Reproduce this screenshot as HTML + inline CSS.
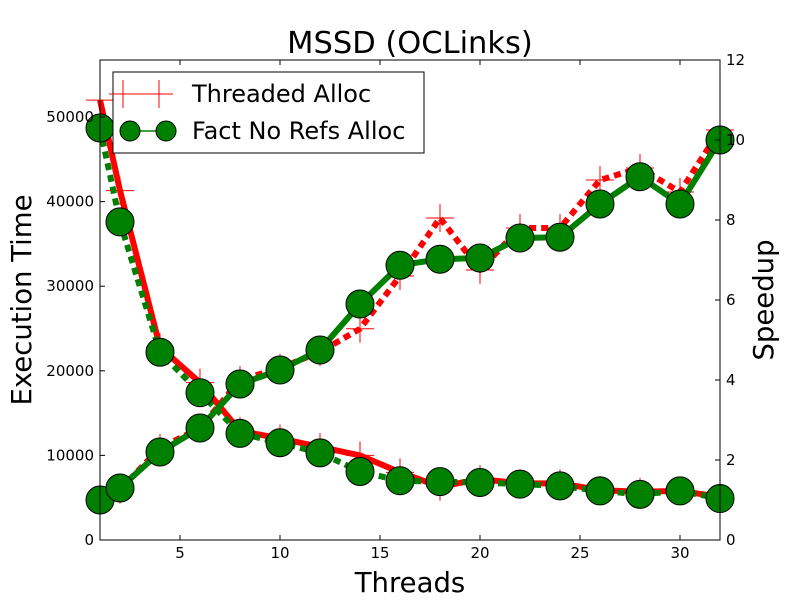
<!DOCTYPE html>
<html><head><meta charset="utf-8"><style>
body{margin:0;background:#fff}
svg text{font-family:"DejaVu Sans","Liberation Sans",sans-serif}
</style></head><body>
<svg id="chart" width="800" height="600" xmlns="http://www.w3.org/2000/svg">
<rect width="800" height="600" fill="#fff"/>
<g id="marks"></g>
<rect x="100" y="60" width="620" height="480" fill="none" stroke="#000" stroke-width="1"/>
<g id="axes"></g>
<text x="410" y="53" font-size="30.5" text-anchor="middle">MSSD (OCLinks)</text>
<text x="410" y="592" font-size="27.5" text-anchor="middle">Threads</text>
<text transform="translate(31,300) rotate(-90)" font-size="27.5" text-anchor="middle">Execution Time</text>
<text transform="translate(773,300) rotate(-90)" font-size="27.5" text-anchor="middle">Speedup</text>
<g>
<rect x="113" y="72" width="311" height="81" fill="#fff" stroke="#000"/>
<g>
<line x1="123" y1="94" x2="173" y2="94" stroke="#f00" stroke-width="1"/>
<path d="M123 94h28M137 80v28M159 94h28M173 80v28" stroke="#f00" stroke-width="1" transform="translate(-14,0)"/>
<text x="192" y="102" font-size="24">Threaded Alloc</text></g>
<g>
<line x1="130" y1="131" x2="166" y2="131" stroke="#008000" stroke-width="1.5"/>
<circle cx="130" cy="131" r="10" fill="#008000" stroke="#000"/>
<circle cx="166" cy="131" r="10" fill="#008000" stroke="#000"/>
<text x="192" y="139" font-size="24">Fact No Refs Alloc</text></g>
</g>
</svg>
<script>
const threads=[1,2,4,6,8,10,12,14,16,18,20,22,24,26,28,30,32];
const threadedTime=[52000,41300,22800,18600,12900,12000,11000,10000,8000,6300,7200,6700,6700,5900,5700,5800,5100];
const factTime=[48700,37600,22200,17400,12600,11500,10300,8100,7000,6900,6800,6600,6400,5800,5400,5800,4900];
const threadedSpeedup=[1.0,1.26,2.3,2.8,4.0,4.3,4.7,5.28,6.6,8.05,6.75,7.8,7.8,9.0,9.3,8.7,10.25];
const factSpeedup=[1.0,1.3,2.2,2.8,3.9,4.25,4.75,5.9,6.87,7.02,7.05,7.55,7.57,8.4,9.08,8.4,10.0];
const xTicks=[5,10,15,20,25,30];
const yTicks=[0,10000,20000,30000,40000,50000];
const y2Ticks=[0,2,4,6,8,10,12];
const X=v=>100+(v-1)*620/31;
const Y=v=>540-v*480/56738;
const Y2=v=>540-v*40;
const NS="http://www.w3.org/2000/svg";
const marks=document.getElementById('marks'),axes=document.getElementById('axes');
function mk(tag,attrs,parent){const e=document.createElementNS(NS,tag);for(const k in attrs)e.setAttribute(k,attrs[k]);parent.appendChild(e);return e;}
function series(vals,yf,color,dash,marker,name){
  const g=mk('g',{},marks);
  
  
  const pts=vals.map((v,i)=>X(threads[i])+','+yf(v)).join(' ');
  const a={points:pts,fill:'none',stroke:color,'stroke-width':6,'stroke-linejoin':'round'};
  if(dash)a['stroke-dasharray']='7,5';
  const pl=mk('polyline',a,g);
  
  
  vals.forEach((v,i)=>{
    const x=X(threads[i]),y=yf(v);let m;
    if(marker==='plus'){m=mk('path',{d:`M${x-14} ${y}h28M${x} ${y-14}v28`,stroke:color,'stroke-width':1},g);}
    else{m=mk('circle',{cx:x,cy:y,r:14,fill:color,stroke:'#000','stroke-width':1},g);}
    
    
  });
}
series(threadedTime,Y,'#f00',false,'plus','threaded-time');
series(threadedSpeedup,Y2,'#f00',true,'plus','threaded-speedup');
series(factTime,Y,'#008000',true,'circle','fact-time');
series(factSpeedup,Y2,'#008000',false,'circle','fact-speedup');
xTicks.forEach(t=>{const x=X(t);
  mk('path',{d:`M${x} 540v-5M${x} 60v5`,stroke:'#000'},axes);
  const tx=mk('text',{x:x,y:558,'font-size':15,'text-anchor':'middle'},axes);tx.textContent=t;
  
  });
yTicks.forEach(t=>{const y=Y(t);
  mk('path',{d:`M100 ${y}h5`,stroke:'#000'},axes);
  const tx=mk('text',{x:94,y:y+5,'font-size':15,'text-anchor':'end'},axes);tx.textContent=t;
  
  });
y2Ticks.forEach(t=>{const y=Y2(t);
  mk('path',{d:`M720 ${y}h-5`,stroke:'#000'},axes);
  const tx=mk('text',{x:726,y:y+5,'font-size':15},axes);tx.textContent=t;
  
  });
</script>
</body></html>
